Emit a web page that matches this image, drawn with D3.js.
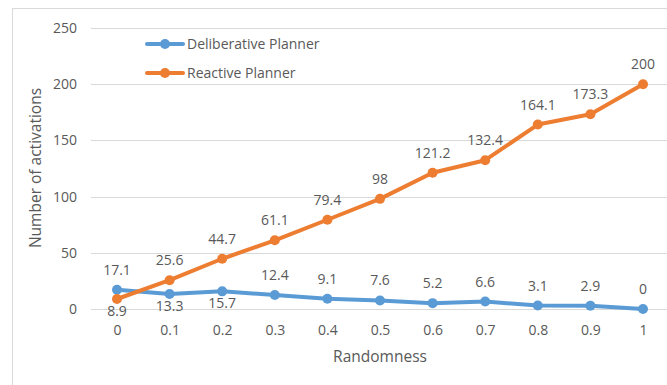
<!DOCTYPE html>
<html><head><meta charset="utf-8">
<script src="https://cdn.jsdelivr.net/npm/d3@7"></script>
<style>body{margin:0;background:#fff;}svg{display:block;}</style>
</head><body>
<svg id="c" width="667" height="385"></svg>
<script>
const categories = ["0","0.1","0.2","0.3","0.4","0.5","0.6","0.7","0.8","0.9","1"];
const deliberative = [17.1,13.3,15.7,12.4,9.1,7.6,5.2,6.6,3.1,2.9,0];
const reactive = [8.9,25.6,44.7,61.1,79.4,98,121.2,132.4,164.1,173.3,200];
const yTicks = [0,50,100,150,200,250];
const seriesNames = ["Deliberative Planner","Reactive Planner"];

const svg = d3.select("#c");
const font = "'Open Sans', sans-serif";
const textColor = "#595959";
const colors = ["#5b9bd5","#ed7d31"];

// chart border
svg.append("rect").attr("x",12.5).attr("y",8.5).attr("width",700).attr("height",400)
  .attr("fill","none").attr("stroke","#d9d9d9").attr("stroke-width",1);

const x = d3.scalePoint().domain(categories).range([90.7,669.3]).padding(0.5);
const y = d3.scaleLinear().domain([0,250]).range([309,28]);

// gridlines
svg.append("g").selectAll("line").data(yTicks).join("line")
  .attr("x1",91).attr("x2",667)
  .attr("y1",d=>Math.round(y(d))+0.5).attr("y2",d=>Math.round(y(d))+0.5)
  .attr("stroke","#d9d9d9").attr("stroke-width",1);

// y axis labels
const yAxis = d3.axisLeft(y).tickValues(yTicks).tickSize(0).tickPadding(0);
const gy = svg.append("g").attr("transform","translate(77,0)").call(yAxis);
gy.select(".domain").remove();
gy.selectAll("text").attr("font-family",font).attr("font-size",14).attr("fill",textColor);

// x axis labels
const xAxis = d3.axisBottom(x).tickSize(0).tickPadding(0);
const gx = svg.append("g").attr("transform","translate(0,325)").call(xAxis);
gx.select(".domain").remove();
gx.selectAll("text").attr("font-family",font).attr("font-size",14).attr("fill",textColor);

// axis titles
svg.append("text").attr("x",380).attr("y",362).attr("text-anchor","middle")
  .attr("font-family",font).attr("font-size",15.5).attr("fill",textColor).text("Randomness");
svg.append("text").attr("transform","translate(41,168) rotate(-90)").attr("text-anchor","middle")
  .attr("font-family",font).attr("font-size",15.5).attr("fill",textColor).text("Number of activations");

const line = d3.line().x((d,i)=>x(categories[i])).y(d=>y(d));
const series = [deliberative, reactive];
// label side: -1 above, 1 below
const sides = [
  [-1,1,1,-1,-1,-1,-1,-1,-1,-1,-1],
  [1,-1,-1,-1,-1,-1,-1,-1,-1,-1,-1]
];

series.forEach((s,k)=>{
  svg.append("path").datum(s).attr("d",line).attr("fill","none")
    .attr("stroke",colors[k]).attr("stroke-width",4).attr("stroke-linejoin","round").attr("stroke-linecap","round");
  svg.append("g").selectAll("circle").data(s).join("circle")
    .attr("cx",(d,i)=>x(categories[i])).attr("cy",d=>y(d)).attr("r",5).attr("fill",colors[k]);
});
series.forEach((s,k)=>{
  svg.append("g").selectAll("text").data(s).join("text")
    .attr("x",(d,i)=>x(categories[i]))
    .attr("y",(d,i)=>y(d) + (sides[k][i] < 0 ? -15 : 17))
    .attr("text-anchor","middle").attr("font-family",font).attr("font-size",14).attr("fill",textColor)
    .text(d=>d);
});

// legend
const lg = svg.append("g");
seriesNames.forEach((n,k)=>{
  const ly = 44 + k*29;
  lg.append("line").attr("x1",147).attr("x2",183).attr("y1",ly).attr("y2",ly)
    .attr("stroke",colors[k]).attr("stroke-width",4).attr("stroke-linecap","round");
  lg.append("circle").attr("cx",165).attr("cy",ly).attr("r",5).attr("fill",colors[k]);
  lg.append("text").attr("x",187).attr("y",ly+5).attr("font-family",font).attr("font-size",14)
    .attr("fill",textColor).text(n);
});
</script>
</body></html>
